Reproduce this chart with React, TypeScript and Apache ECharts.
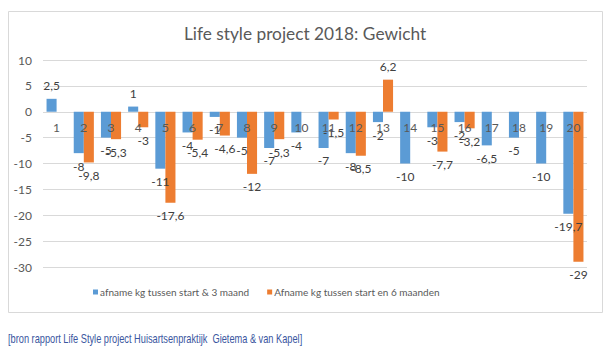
import React, { useEffect, useRef } from "react";
import * as echarts from "echarts";

const categories = ["1","2","3","4","5","6","7","8","9","10","11","12","13","14","15","16","17","18","19","20"];
const series3Name = "afname kg tussen start & 3 maand";
const series6Name = "Afname kg tussen start en 6 maanden";
const values3: (number | null)[] = [2.5, -8, -5, 1, -11, -4, -1, -5, -7, -4, -7, -8, -2, -10, -3, -2, -6.5, -5, -10, -19.7];
const values6: (number | null)[] = [null, -9.8, -5.3, -3, -17.6, -5.4, -4.6, -12, -5.3, null, -1.5, -8.5, 6.2, null, -7.7, -3.2, null, null, null, -29];
const yMin = -30;
const yMax = 10;
const yStep = 5;
const titleText = "Life style project 2018: Gewicht";
const sourceText = "[bron rapport Life Style project Huisartsenpraktijk  Gietema & van Kapel]";

const FONT = "Lato, 'Open Sans', sans-serif";

export default function App() {
  const ref = useRef<HTMLDivElement>(null);
  useEffect(() => {
    if (!ref.current) return;
    const chart = echarts.init(ref.current, null, { renderer: "svg" });
    const fmt = (p: any) => String(p.value).replace(".", ",");
    const mk = (name: string, vals: (number | null)[], color: string) => ({
      name,
      type: "bar",
      data: vals.map((v) => (v === null ? "-" : v)),
      itemStyle: { color },
      barGap: "0%",
      barCategoryGap: "26%",
      z: 2,
      label: {
        show: true,
        position: "outside",
        distance: 7,
        formatter: fmt,
        color: "#404040",
        fontSize: 12,
        fontFamily: FONT,
      },
    });
    const gridTop = 60;
    const gridBottom = 87;
    const plotH = 354 - gridTop - gridBottom;
    const zeroOffset = -plotH * (0 - yMin) / (yMax - yMin);
    chart.setOption({
      animation: false,
      backgroundColor: "#ffffff",
      title: {
        text: titleText,
        left: "center",
        top: 20,
        textStyle: { color: "#595959", fontSize: 17.3, fontWeight: "normal", fontFamily: FONT },
      },
      grid: { left: 43, right: 23, top: gridTop, bottom: gridBottom, containLabel: false },
      legend: {
        left: 88,
        top: 282,
        icon: "rect",
        itemWidth: 5,
        itemHeight: 5,
        itemGap: 18,
        textStyle: { color: "#595959", fontSize: 10, fontFamily: FONT, padding: [0, 0, 0, -3] },
        data: [series3Name, series6Name],
      },
      xAxis: {
        type: "category",
        data: categories,
        position: "bottom",
        offset: zeroOffset,
        axisLine: { show: false, onZero: false },
        axisTick: { show: false },
        axisLabel: { color: "#595959", fontSize: 12, fontFamily: FONT, margin: 10 },
        z: 10,
      },
      yAxis: {
        type: "value",
        min: yMin,
        max: yMax,
        interval: yStep,
        axisLine: { show: false },
        axisTick: { show: false },
        splitLine: { lineStyle: { color: "#d9d9d9" } },
        axisLabel: { color: "#595959", fontSize: 12, fontFamily: FONT, margin: 11 },
      },
      graphic: [
        {
          type: "rect",
          shape: { x: 8.5, y: 11.5, width: 594, height: 301 },
          style: { fill: "none", stroke: "#d9d9d9", lineWidth: 1 },
          z: -1,
        },
        {
          type: "text",
          x: 8,
          y: 333,
          scaleX: 0.77,
          style: {
            text: sourceText,
            fill: "#3a56a0",
            fontSize: 12,
            fontFamily: "'Liberation Sans', Arial, sans-serif",
          },
        },
      ],
      series: [mk(series3Name, values3, "#5b9bd5"), mk(series6Name, values6, "#ed7d31")],
    });
    return () => chart.dispose();
  }, []);
  return (
    <div
      ref={ref}
      style={{ position: "absolute", left: 0, top: 0, width: 610, height: 354 }}
    />
  );
}
